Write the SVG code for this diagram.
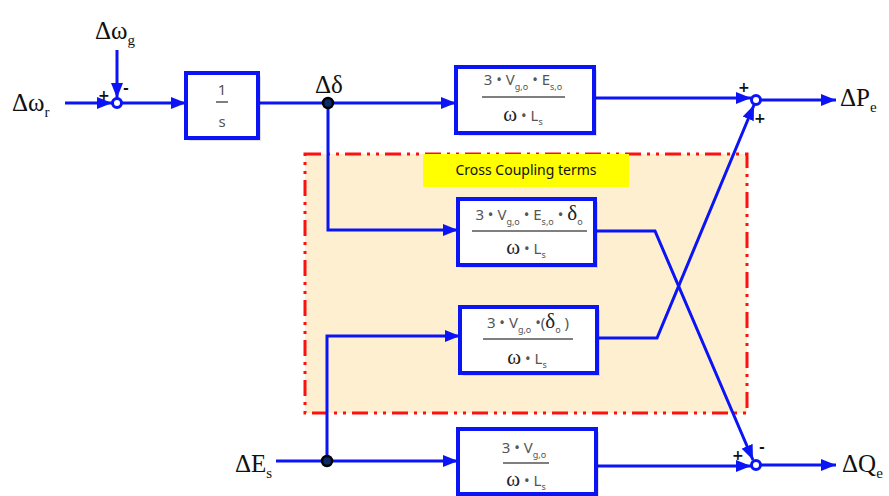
<svg xmlns="http://www.w3.org/2000/svg" width="889" height="496" viewBox="0 0 889 496">
<style>
.wire{fill:none;stroke:#0a14f5;stroke-width:3;stroke-linejoin:miter}
.box{fill:#fff;stroke:#0a14f5;stroke-width:4}
.shadow{fill:#000;opacity:0.12}
.lbl{font-family:"Liberation Serif",serif;font-size:25px;fill:#111}
.sub{font-size:15px}
.frac{font-family:"Noto Sans","DejaVu Sans",sans-serif;font-size:15px;fill:#555}
.fsub{font-size:9px}
.om{font-family:"Liberation Serif",serif;font-size:21px;fill:#222}
.bar{stroke:#555;stroke-width:1.5}
.sign{font-family:"DejaVu Sans",sans-serif;font-weight:bold;font-size:14px;fill:#111}
.sum{fill:#fff;stroke:#0a14f5;stroke-width:3}
.node{fill:#0a2a6a;stroke:#000;stroke-width:2.5}
</style>
<defs>
<marker id="arr" markerUnits="userSpaceOnUse" markerWidth="16" markerHeight="12" refX="15" refY="6" orient="auto">
<path d="M0,0 L15,6 L0,12 Z" fill="#0a14f5"/>
</marker>
</defs>

<g id="region">
<rect x="305" y="154" width="442" height="259" fill="#fdefcf" stroke="#ff1010" stroke-width="3" stroke-dasharray="16,6,3,6,3,6"/>
<rect x="423" y="154" width="206" height="33" fill="#ffff00"/>
<text x="526" y="175" font-family="'Noto Sans','DejaVu Sans',sans-serif" font-size="14" fill="#111" text-anchor="middle">Cross Coupling terms</text>
</g>

<g id="connectors">
<path class="wire" d="M65,103 H112" marker-end="url(#arr)"/>
<path class="wire" d="M117,50 V98" marker-end="url(#arr)"/>
<path class="wire" d="M122,103 H186" marker-end="url(#arr)"/>
<path class="wire" d="M258,103 H456" marker-end="url(#arr)"/>
<path class="wire" d="M328,103 V230 H458" marker-end="url(#arr)"/>
<path class="wire" d="M594,98 H751" marker-end="url(#arr)"/>
<path class="wire" d="M761,100 H836" marker-end="url(#arr)"/>
<path class="wire" d="M595,231 H655 L753,460" marker-end="url(#arr)"/>
<path class="wire" d="M597,338 H657 L754,105" marker-end="url(#arr)"/>
<path class="wire" d="M276,461 H458" marker-end="url(#arr)"/>
<path class="wire" d="M327,461 V336 H460" marker-end="url(#arr)"/>
<path class="wire" d="M596,466 H751" marker-end="url(#arr)"/>
<path class="wire" d="M761,465 H836" marker-end="url(#arr)"/>
</g>

<g id="sum1">
<circle class="sum" cx="117" cy="103" r="4.5"/>
<text class="sign" x="98" y="100">+</text>
<text class="sign" x="123" y="93">-</text>
</g>
<g id="sum2">
<circle class="sum" cx="756" cy="100" r="4.5"/>
<text class="sign" x="738" y="92">+</text>
<text class="sign" x="754" y="123">+</text>
</g>
<g id="sum3">
<circle class="sum" cx="756" cy="465" r="4.5"/>
<text class="sign" x="732" y="460">+</text>
<text class="sign" x="759" y="452">-</text>
</g>

<g id="node-delta">
<circle class="node" cx="328" cy="103" r="5"/>
</g>
<g id="node-Es">
<circle class="node" cx="327" cy="461" r="5"/>
</g>

<g id="in-wr">
<text class="lbl" x="12" y="111">Δω<tspan class="sub" dy="6">r</tspan></text>
</g>
<g id="in-wg">
<text class="lbl" x="95" y="39">Δω<tspan class="sub" dy="6">g</tspan></text>
</g>
<g id="lbl-delta">
<text class="lbl" x="315" y="93">Δδ</text>
</g>
<g id="out-Pe">
<text class="lbl" x="840" y="106">ΔP<tspan class="sub" dy="6">e</tspan></text>
</g>
<g id="out-Qe">
<text class="lbl" x="842" y="472">ΔQ<tspan class="sub" dy="6">e</tspan></text>
</g>
<g id="in-Es">
<text class="lbl" x="235" y="472">ΔE<tspan class="sub" dy="6">s</tspan></text>
</g>

<g id="box-integrator">
<rect class="shadow" x="189" y="76" width="72" height="65"/>
<rect class="box" x="186" y="73" width="72" height="65"/>
<text class="frac" x="222" y="95" text-anchor="middle" font-size="16">1</text>
<line class="bar" x1="216" y1="102" x2="228" y2="102"/>
<text class="frac" x="222" y="127" text-anchor="middle" font-size="16">s</text>
</g>

<g id="box-P-delta">
<rect class="shadow" x="459" y="70" width="138" height="66"/>
<rect class="box" x="456" y="67" width="138" height="66"/>
<text class="frac" x="523" y="85" text-anchor="middle">3 • V<tspan class="fsub" dy="5">g,o</tspan><tspan dy="-5"> • E</tspan><tspan class="fsub" dy="5">s,o</tspan></text>
<line class="bar" x1="482" y1="97" x2="565" y2="97"/>
<text class="frac" x="523" y="121" text-anchor="middle"><tspan class="om">ω</tspan> • L<tspan class="fsub" dy="4">s</tspan></text>
</g>

<g id="box-Q-delta">
<rect class="shadow" x="461" y="202" width="137" height="66"/>
<rect class="box" x="458" y="199" width="137" height="66"/>
<text class="frac" x="529" y="220" text-anchor="middle">3 • V<tspan class="fsub" dy="5">g,o</tspan><tspan dy="-5"> • E</tspan><tspan class="fsub" dy="5">s,o</tspan><tspan dy="-5"> • </tspan><tspan class="om" font-size="24">δ</tspan><tspan class="fsub" dy="5">o</tspan></text>
<line class="bar" x1="472" y1="231" x2="587" y2="231"/>
<text class="frac" x="526" y="254" text-anchor="middle"><tspan class="om">ω</tspan> • L<tspan class="fsub" dy="4">s</tspan></text>
</g>

<g id="box-P-E">
<rect class="shadow" x="463" y="310" width="137" height="66"/>
<rect class="box" x="460" y="307" width="137" height="66"/>
<text class="frac" x="528" y="328" text-anchor="middle">3 • V<tspan class="fsub" dy="5">g,o</tspan><tspan dy="-5"> •(</tspan><tspan class="om" font-size="23">δ</tspan><tspan class="fsub" dy="5">o</tspan><tspan dy="-5"> )</tspan></text>
<line class="bar" x1="483" y1="339" x2="573" y2="339"/>
<text class="frac" x="527" y="364" text-anchor="middle"><tspan class="om">ω</tspan> • L<tspan class="fsub" dy="4">s</tspan></text>
</g>

<g id="box-Q-E">
<rect class="shadow" x="461" y="432" width="138" height="66"/>
<rect class="box" x="458" y="429" width="138" height="65"/>
<text class="frac" x="524" y="453" text-anchor="middle">3 • V<tspan class="fsub" dy="5">g,o</tspan></text>
<line class="bar" x1="503" y1="463" x2="549" y2="463"/>
<text class="frac" x="526" y="486" text-anchor="middle"><tspan class="om">ω</tspan> • L<tspan class="fsub" dy="4">s</tspan></text>
</g>
</svg>
